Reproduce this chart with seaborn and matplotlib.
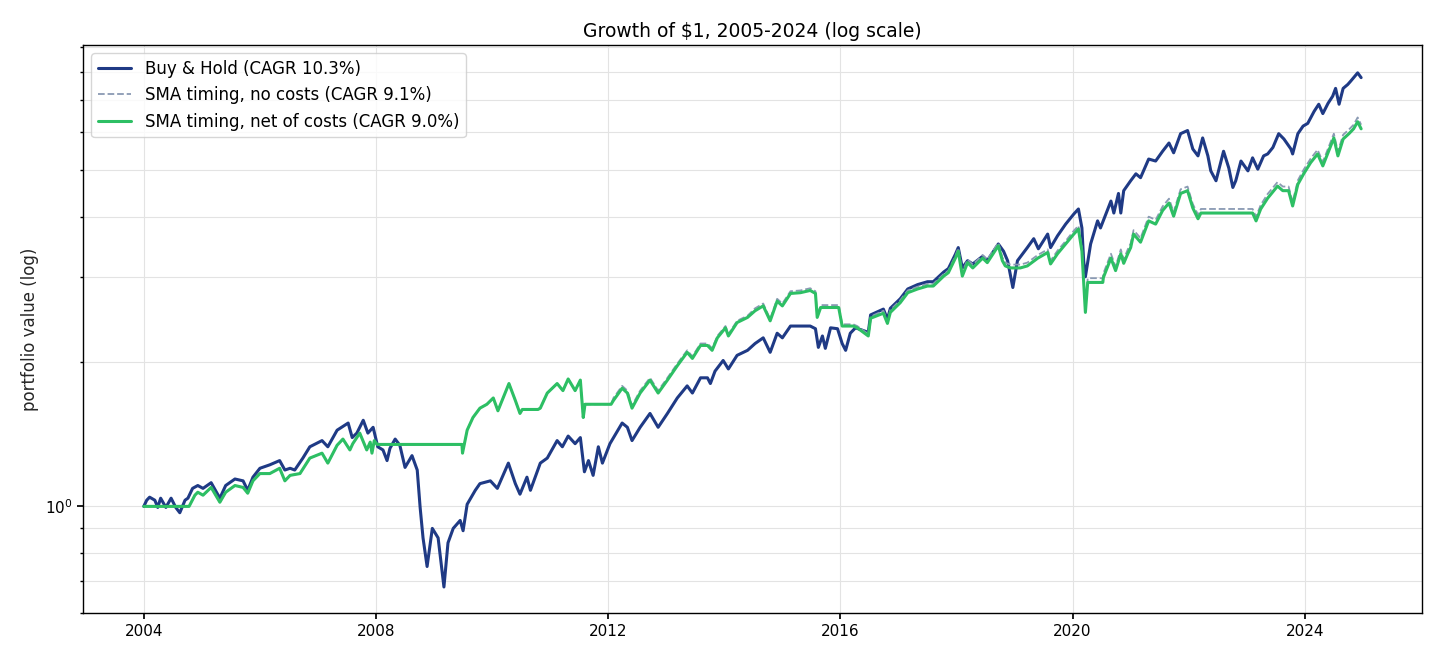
import matplotlib
matplotlib.use("Agg")
import matplotlib.pyplot as plt
import matplotlib.ticker as mticker
import seaborn as sns

sns.set_theme(style="ticks", rc={"axes.edgecolor": "black", "xtick.color": "black",
                                 "ytick.color": "black", "text.color": "black"})
plt.rcParams['font.family'] = ['DejaVu Sans']

# Buy & Hold (decimal year, growth of $1)
bh_year = [2004.00, 2004.05, 2004.10, 2004.19, 2004.24, 2004.29, 2004.38, 2004.47, 2004.55, 2004.62,
           2004.71, 2004.76, 2004.84, 2004.93, 2005.02, 2005.16, 2005.31, 2005.41, 2005.57, 2005.71,
           2005.79, 2005.88, 2006.00, 2006.17, 2006.34, 2006.43, 2006.52, 2006.60, 2006.74, 2006.86,
           2007.07, 2007.17, 2007.33, 2007.52, 2007.59, 2007.67, 2007.78, 2007.86, 2007.95, 2008.03,
           2008.12, 2008.19, 2008.24, 2008.33, 2008.41, 2008.50, 2008.62, 2008.71, 2008.76, 2008.81,
           2008.88, 2008.97, 2009.02, 2009.07, 2009.17, 2009.24, 2009.33, 2009.45, 2009.50, 2009.57,
           2009.71, 2009.79, 2009.97, 2010.09, 2010.28, 2010.40, 2010.48, 2010.60, 2010.66, 2010.83,
           2010.95, 2011.12, 2011.21, 2011.31, 2011.43, 2011.52, 2011.59, 2011.66, 2011.74, 2011.83,
           2011.90, 2012.03, 2012.24, 2012.33, 2012.41, 2012.55, 2012.72, 2012.86, 2013.02, 2013.19,
           2013.36, 2013.45, 2013.59, 2013.71, 2013.76, 2013.84, 2013.98, 2014.07, 2014.22, 2014.40,
           2014.53, 2014.67, 2014.79, 2014.91, 2015.00, 2015.14, 2015.31, 2015.48, 2015.57, 2015.62,
           2015.69, 2015.74, 2015.83, 2015.95, 2016.03, 2016.09, 2016.17, 2016.26, 2016.48, 2016.52,
           2016.74, 2016.81, 2016.86, 2017.03, 2017.16, 2017.33, 2017.50, 2017.60, 2017.78, 2017.86,
           2017.98, 2018.03, 2018.10, 2018.19, 2018.28, 2018.45, 2018.53, 2018.72, 2018.81, 2018.88,
           2018.97, 2019.05, 2019.22, 2019.33, 2019.41, 2019.57, 2019.62, 2019.74, 2019.88, 2020.02,
           2020.10, 2020.16, 2020.19, 2020.22, 2020.31, 2020.43, 2020.48, 2020.66, 2020.71, 2020.79,
           2020.83, 2020.88, 2021.00, 2021.09, 2021.17, 2021.31, 2021.43, 2021.55, 2021.66, 2021.74,
           2021.86, 2021.98, 2022.07, 2022.16, 2022.24, 2022.33, 2022.38, 2022.47, 2022.60, 2022.69,
           2022.76, 2022.81, 2022.90, 2023.02, 2023.10, 2023.19, 2023.29, 2023.36, 2023.45, 2023.55,
           2023.64, 2023.76, 2023.79, 2023.88, 2023.97, 2024.05, 2024.16, 2024.24, 2024.31, 2024.40,
           2024.48, 2024.53, 2024.59, 2024.66, 2024.74, 2024.79, 2024.84, 2024.91, 2024.97]
bh_value = [1.00, 1.03, 1.045, 1.03, 0.995, 1.04, 0.995, 1.04, 0.995, 0.97,
            1.03, 1.04, 1.09, 1.105, 1.09, 1.12, 1.04, 1.105, 1.14, 1.13,
            1.08, 1.15, 1.20, 1.22, 1.245, 1.19, 1.20, 1.19, 1.26, 1.33,
            1.37, 1.33, 1.44, 1.49, 1.39, 1.42, 1.51, 1.42, 1.46, 1.33,
            1.31, 1.245, 1.32, 1.38, 1.34, 1.205, 1.275, 1.19, 0.995, 0.86,
            0.75, 0.90, 0.88, 0.86, 0.68, 0.84, 0.90, 0.935, 0.89, 1.01,
            1.08, 1.115, 1.13, 1.09, 1.23, 1.115, 1.06, 1.15, 1.08, 1.23,
            1.26, 1.37, 1.33, 1.40, 1.35, 1.39, 1.18, 1.245, 1.16, 1.33,
            1.23, 1.35, 1.49, 1.46, 1.37, 1.46, 1.56, 1.46, 1.56, 1.68,
            1.78, 1.72, 1.85, 1.85, 1.80, 1.91, 2.01, 1.93, 2.06, 2.11,
            2.18, 2.24, 2.09, 2.29, 2.24, 2.37, 2.37, 2.37, 2.34, 2.14,
            2.26, 2.13, 2.35, 2.34, 2.18, 2.11, 2.29, 2.35, 2.30, 2.50,
            2.57, 2.45, 2.58, 2.70, 2.83, 2.89, 2.93, 2.93, 3.07, 3.12,
            3.34, 3.45, 3.13, 3.24, 3.19, 3.31, 3.24, 3.51, 3.39, 3.24,
            2.85, 3.24, 3.45, 3.60, 3.43, 3.68, 3.45, 3.65, 3.86, 4.05,
            4.15, 3.79, 3.24, 3.00, 3.51, 3.92, 3.79, 4.31, 4.07, 4.47,
            4.07, 4.53, 4.75, 4.91, 4.82, 5.27, 5.22, 5.47, 5.69, 5.43,
            5.95, 6.04, 5.53, 5.35, 5.83, 5.35, 4.98, 4.75, 5.47, 5.05,
            4.60, 4.75, 5.22, 4.98, 5.30, 5.02, 5.35, 5.40, 5.57, 5.95,
            5.80, 5.53, 5.40, 5.95, 6.17, 6.25, 6.62, 6.85, 6.55, 6.88,
            7.12, 7.39, 6.85, 7.39, 7.53, 7.65, 7.78, 7.96, 7.78]

# SMA timing (both variants share the same dates)
sma_year = [2004.00, 2004.78, 2004.88, 2004.93, 2005.02, 2005.16, 2005.31, 2005.41, 2005.57, 2005.71,
            2005.79, 2005.88, 2006.00, 2006.17, 2006.34, 2006.43, 2006.52, 2006.69, 2006.86, 2007.07,
            2007.17, 2007.33, 2007.43, 2007.55, 2007.60, 2007.72, 2007.84, 2007.90, 2007.93, 2007.97,
            2008.02, 2009.48, 2009.49, 2009.57, 2009.67, 2009.79, 2009.91, 2010.02, 2010.10, 2010.19,
            2010.29, 2010.40, 2010.48, 2010.52, 2010.79, 2010.83, 2010.95, 2011.12, 2011.22, 2011.31,
            2011.43, 2011.52, 2011.57, 2011.60, 2012.05, 2012.09, 2012.24, 2012.33, 2012.41, 2012.55,
            2012.72, 2012.86, 2013.02, 2013.19, 2013.36, 2013.45, 2013.59, 2013.71, 2013.79, 2013.88,
            2014.02, 2014.07, 2014.22, 2014.40, 2014.53, 2014.67, 2014.79, 2014.91, 2015.00, 2015.14,
            2015.31, 2015.48, 2015.57, 2015.60, 2015.66, 2015.97, 2016.03, 2016.22, 2016.29, 2016.48,
            2016.52, 2016.74, 2016.81, 2016.86, 2017.03, 2017.16, 2017.33, 2017.50, 2017.60, 2017.78,
            2017.86, 2017.98, 2018.03, 2018.10, 2018.19, 2018.28, 2018.45, 2018.53, 2018.72, 2018.79,
            2018.84, 2018.93, 2019.10, 2019.22, 2019.40, 2019.57, 2019.62, 2019.74, 2019.88, 2020.02,
            2020.10, 2020.16, 2020.22, 2020.26, 2020.52, 2020.53, 2020.66, 2020.74, 2020.83, 2020.88,
            2020.95, 2021.00, 2021.05, 2021.17, 2021.31, 2021.43, 2021.55, 2021.66, 2021.74, 2021.86,
            2021.98, 2022.07, 2022.16, 2022.21, 2023.10, 2023.16, 2023.24, 2023.36, 2023.53, 2023.62,
            2023.72, 2023.79, 2023.88, 2023.98, 2024.10, 2024.22, 2024.31, 2024.41, 2024.50, 2024.57,
            2024.66, 2024.76, 2024.84, 2024.91, 2024.97]
sma_net = [1.00, 1.00, 1.055, 1.07, 1.055, 1.095, 1.02, 1.07, 1.105, 1.095,
           1.065, 1.13, 1.17, 1.17, 1.20, 1.13, 1.16, 1.17, 1.26, 1.29,
           1.23, 1.34, 1.38, 1.31, 1.35, 1.42, 1.31, 1.36, 1.29, 1.37,
           1.345, 1.345, 1.29, 1.44, 1.53, 1.60, 1.63, 1.68, 1.58, 1.68,
           1.80, 1.66, 1.56, 1.59, 1.59, 1.60, 1.72, 1.80, 1.74, 1.84,
           1.74, 1.83, 1.53, 1.63, 1.63, 1.66, 1.76, 1.72, 1.60, 1.72,
           1.83, 1.72, 1.83, 1.96, 2.09, 2.03, 2.16, 2.16, 2.11, 2.24,
           2.35, 2.26, 2.41, 2.47, 2.55, 2.61, 2.43, 2.67, 2.61, 2.77,
           2.78, 2.81, 2.77, 2.47, 2.59, 2.59, 2.37, 2.37, 2.35, 2.26,
           2.46, 2.52, 2.40, 2.53, 2.65, 2.78, 2.83, 2.87, 2.87, 3.01,
           3.06, 3.28, 3.39, 3.01, 3.21, 3.13, 3.28, 3.21, 3.48, 3.24,
           3.16, 3.13, 3.13, 3.16, 3.28, 3.37, 3.19, 3.35, 3.51, 3.68,
           3.77, 3.39, 2.53, 2.92, 2.92, 2.99, 3.28, 3.09, 3.35, 3.20,
           3.35, 3.45, 3.68, 3.54, 3.92, 3.86, 4.12, 4.27, 4.01, 4.47,
           4.53, 4.17, 3.96, 4.07, 4.07, 3.92, 4.15, 4.37, 4.63, 4.53,
           4.53, 4.21, 4.67, 4.91, 5.18, 5.40, 5.10, 5.47, 5.83, 5.35,
           5.80, 5.95, 6.09, 6.30, 6.09]
sma_gross = [1.00, 1.00, 1.055, 1.07, 1.055, 1.095, 1.02, 1.07, 1.105, 1.095,
             1.065, 1.13, 1.17, 1.17, 1.20, 1.13, 1.16, 1.17, 1.26, 1.29,
             1.23, 1.34, 1.38, 1.31, 1.35, 1.42, 1.31, 1.36, 1.29, 1.37,
             1.345, 1.345, 1.29, 1.44, 1.53, 1.60, 1.63, 1.68, 1.58, 1.68,
             1.80, 1.66, 1.56, 1.59, 1.59, 1.60, 1.72, 1.80, 1.74, 1.84,
             1.74, 1.83, 1.53, 1.63, 1.63, 1.68, 1.78, 1.74, 1.62, 1.74,
             1.85, 1.74, 1.85, 1.98, 2.11, 2.05, 2.18, 2.18, 2.13, 2.26,
             2.37, 2.28, 2.43, 2.49, 2.58, 2.64, 2.45, 2.70, 2.64, 2.80,
             2.81, 2.84, 2.80, 2.49, 2.62, 2.62, 2.39, 2.39, 2.37, 2.28,
             2.48, 2.55, 2.42, 2.56, 2.68, 2.81, 2.86, 2.90, 2.90, 3.04,
             3.09, 3.31, 3.44, 3.06, 3.26, 3.18, 3.33, 3.26, 3.53, 3.29,
             3.21, 3.18, 3.18, 3.21, 3.33, 3.42, 3.24, 3.40, 3.56, 3.74,
             3.83, 3.44, 2.58, 2.98, 2.98, 3.05, 3.35, 3.15, 3.42, 3.26,
             3.42, 3.52, 3.75, 3.61, 4.00, 3.94, 4.20, 4.36, 4.09, 4.56,
             4.62, 4.25, 4.04, 4.15, 4.15, 4.00, 4.23, 4.46, 4.72, 4.62,
             4.62, 4.29, 4.76, 5.01, 5.28, 5.51, 5.20, 5.58, 5.95, 5.46,
             5.92, 6.07, 6.21, 6.43, 6.21]

fig, ax = plt.subplots(figsize=(14.4, 6.6), dpi=100)
fig.subplots_adjust(left=0.0576, right=0.9875, top=0.932, bottom=0.071)

sns.lineplot(x=bh_year, y=bh_value, ax=ax, estimator=None, sort=False,
             color='#1f3a85', linewidth=2.2, label='Buy & Hold (CAGR 10.3%)')
sns.lineplot(x=sma_year, y=sma_gross, ax=ax, estimator=None, sort=False,
             color='#8a9ab3', linewidth=1.3, linestyle='--',
             label='SMA timing, no costs (CAGR 9.1%)')
sns.lineplot(x=sma_year, y=sma_net, ax=ax, estimator=None, sort=False,
             color='#2dbf64', linewidth=2.2, label='SMA timing, net of costs (CAGR 9.0%)')

ax.set_yscale('log')
ax.set_ylim(0.6, 9.1)
ax.yaxis.set_minor_formatter(mticker.NullFormatter())
ax.xaxis.set_major_locator(mticker.MultipleLocator(4))
ax.xaxis.set_major_formatter(mticker.FormatStrFormatter('%d'))

ax.set_axisbelow(True)
ax.grid(True, which='both', axis='y', color='#e3e3e3', linewidth=0.8)
ax.grid(True, which='major', axis='x', color='#e3e3e3', linewidth=0.8)
for side in ['top', 'right', 'left', 'bottom']:
    ax.spines[side].set_visible(True)
    ax.spines[side].set_linewidth(1.0)

ax.tick_params(axis='both', which='major', labelsize=11, length=4)
ax.tick_params(axis='y', which='minor', length=2.5)
ax.set_title('Growth of $1, 2005-2024 (log scale)', fontsize=13.5)
ax.set_ylabel('portfolio value (log)', fontsize=12)
ax.set_xlabel('')
ax.legend(loc='upper left', fontsize=12, frameon=True, fancybox=True,
          framealpha=0.8, edgecolor='#cccccc', borderpad=0.4, handlelength=2.0)

plt.savefig('out.png', dpi=100)
